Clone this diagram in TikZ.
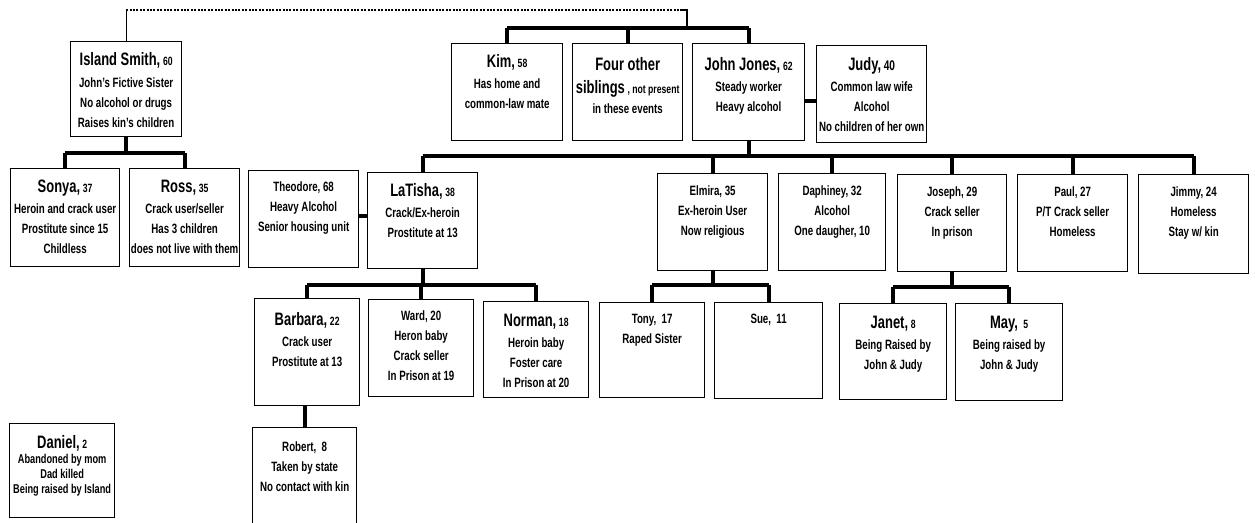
\documentclass[tikz,border=0pt]{standalone}
\usepackage{fontspec}
\setmainfont{Liberation Sans}[FakeStretch=0.72]
\usetikzlibrary{calc}
\newcommand{\Nm}[1]{{\fontsize{18}{20}\selectfont #1}}
\newcommand{\Ag}[1]{{\fontsize{12}{20}\selectfont #1}}
\newcommand{\Person}[4][20.5pt]{\parbox[c][#3][t]{#2}{\fontsize{13.5}{20}\selectfont\bfseries\centering\rule{0pt}{#1}#4}}
\begin{document}
\begin{tikzpicture}[x=1pt,y=-1pt,
  person/.style={draw,line width=1.3pt,inner sep=0pt,anchor=north west},
  bar/.style={line width=3.8pt},
  tie/.style={line width=1.3pt},
  dotline/.style={line width=2.6pt,dash pattern=on 2pt off 1.4pt}]
\useasboundingbox (0,0) rectangle (1255,522);
\clip (0,0) rectangle (1255,522);
%Obere Reihe: Island und die Geschwister
\node[person] (island) at (70,41) {\Person[23.5pt]{111pt}{95pt}{\Nm{Island Smith,} \Ag{60}\\[2pt] John's Fictive Sister\\ No alcohol or drugs\\ Raises kin's children}};
\node[person] (kim) at (451,43) {\Person[23.5pt]{111pt}{97pt}{\Nm{Kim,} \Ag{58}\\[1pt] Has home and\\ common-law mate}};
\node[person] (four) at (572,43) {\Person[27pt]{110pt}{97pt}{\Nm{Four other}\\[3pt] \Nm{siblings} \Ag{, not present}\\ in these events}};
\node[person] (john) at (692,43) {\Person[27pt]{112pt}{97pt}{\Nm{John Jones,} \Ag{62}\\[1pt] Steady worker\\ Heavy alcohol}};
\node[person] (judy) at (816,45) {\Person[25pt]{110pt}{97pt}{\Nm{Judy,} {\fontsize{14}{20}\selectfont 40}\\[1pt] Common law wife\\ Alcohol\\ No children of her own}};
%Zweite Reihe
\node[person] (sonya) at (10,168) {\Person[23.5pt]{109pt}{98pt}{\Nm{Sonya,} \Ag{37}\\[1pt] Heroin and crack user\\ Prostitute since 15\\ Childless}};
\node[person] (ross) at (129,168) {\Person[23.5pt]{110pt}{98pt}{\Nm{Ross,} \Ag{35}\\[1pt] Crack user/seller\\ Has 3 children\\ does not live with them}};
\node[person] (theodore) at (248,170) {\Person{110pt}{97pt}{Theodore, 68\\ Heavy Alcohol\\ Senior housing unit}};
\node[person] (latisha) at (367,172) {\Person[23.5pt]{110pt}{96pt}{\Nm{LaTisha,} \Ag{38}\\[1pt] Crack/Ex-heroin\\ Prostitute at 13}};
\node[person] (elmira) at (657,173) {\Person[22pt]{110pt}{97pt}{Elmira, 35\\ Ex-heroin User\\ Now religious}};
\node[person] (daphiney) at (778,173) {\Person[22pt]{107pt}{97pt}{Daphiney, 32\\ Alcohol\\ One daugher, 10}};
\node[person] (joseph) at (897,174) {\Person[22pt]{109pt}{97pt}{Joseph, 29\\ Crack seller\\ In prison}};
\node[person] (paul) at (1017,174) {\Person[22pt]{110pt}{97pt}{Paul, 27\\ P/T Crack seller\\ Homeless}};
\node[person] (jimmy) at (1138,174) {\Person[22pt]{110pt}{99pt}{Jimmy, 24\\ Homeless\\ Stay w/ kin}};
%Dritte Reihe
\node[person] (barbara) at (254,298) {\Person[27pt]{105pt}{107pt}{\Nm{Barbara,} \Ag{22}\\[1pt] Crack user\\ Prostitute at 13}};
\node[person] (ward) at (368,299) {\Person{105pt}{97pt}{Ward, 20\\ Heron baby\\ Crack seller\\ In Prison at 19}};
\node[person] (norman) at (483,301) {\Person[25pt]{105pt}{96pt}{\Nm{Norman,} \Ag{18}\\[1pt] Heroin baby\\ Foster care\\ In Prison at 20}};
\node[person] (tony) at (599,302) {\Person{105pt}{95pt}{Tony,\ \ 17\\ Raped Sister}};
\node[person] (sue) at (714,302) {\Person{108pt}{96pt}{Sue,\ \ 11}};
\node[person] (janet) at (839,303) {\Person[25pt]{107pt}{96pt}{\Nm{Janet,} \Ag{8}\\[1pt] Being Raised by\\ John \& Judy}};
\node[person] (may) at (955,303) {\Person[25pt]{107pt}{97pt}{\Nm{May,}\ \ \Ag{5}\\[1pt] Being raised by\\ John \& Judy}};
%Unten
\node[person] (robert) at (252,427) {\Person[24pt]{104pt}{120pt}{Robert,\ \ 8\\ Taken by state\\ No contact with kin}};
\node[person] (daniel) at (9,423) {\Person[25pt]{105pt}{94pt}{\fontsize{12.8}{15}\selectfont\Nm{Daniel,} \Ag{2}\\ Abandoned by mom\\ Dad killed\\ Being raised by Island}};
%Hilfslinien fuer die Balken
\coordinate (topc) at (687,10);
\coordinate (sibbar) at (0,28);
\coordinate (islbar) at (0,153);
\coordinate (kidbar) at (0,156);
\coordinate (latbar) at (0,285);
\coordinate (elmbar) at (0,285);
\coordinate (josbar) at (0,287);
%Verbindung Island -- Geschwister
\draw[tie] (island.north) -- (island.north |- topc);
\draw[dotline] (island.north |- topc) -- ($(topc)+(-5,0)$);
\draw[tie] ($(topc)+(-5,0)$) -- (topc) -- (topc |- sibbar);
\draw[bar] (kim.north |- sibbar) -- (john.north |- sibbar);
\foreach \k in {kim,four,john} \draw[bar] (\k.north) -- (\k.north |- sibbar);
%Island
\draw[bar] (island.south) -- (island.south |- islbar);
\draw[bar] (sonya.north |- islbar) -- (ross.north |- islbar);
\foreach \k in {sonya,ross} \draw[bar] (\k.north) -- (\k.north |- islbar);
%John und Judy
\draw[bar] ([yshift=-8.5pt]john.east) -- ([yshift=-8.5pt]john.east -| judy.west);
\draw[bar] (john.south) -- (john.south |- kidbar);
\draw[bar] (latisha.north |- kidbar) -- (jimmy.north |- kidbar);
\foreach \k in {latisha,elmira,daphiney,joseph,paul,jimmy} \draw[bar] (\k.north) -- (\k.north |- kidbar);
\draw[bar] ([yshift=3pt]theodore.east) -- ([yshift=3pt]theodore.east -| latisha.west);
%LaTisha
\draw[bar] (latisha.south) -- (latisha.south |- latbar);
\draw[bar] (barbara.north |- latbar) -- (norman.north |- latbar);
\foreach \k in {barbara,ward,norman} \draw[bar] (\k.north) -- (\k.north |- latbar);
\draw[bar] (robert.north) -- (robert.north |- barbara.south);
%Elmira
\draw[bar] (elmira.south) -- (elmira.south |- elmbar);
\draw[bar] (tony.north |- elmbar) -- (sue.north |- elmbar);
\foreach \k in {tony,sue} \draw[bar] (\k.north) -- (\k.north |- elmbar);
%Joseph
\draw[bar] (joseph.south) -- (joseph.south |- josbar);
\draw[bar] (janet.north |- josbar) -- (may.north |- josbar);
\foreach \k in {janet,may} \draw[bar] (\k.north) -- (\k.north |- josbar);
\end{tikzpicture}
\end{document}
